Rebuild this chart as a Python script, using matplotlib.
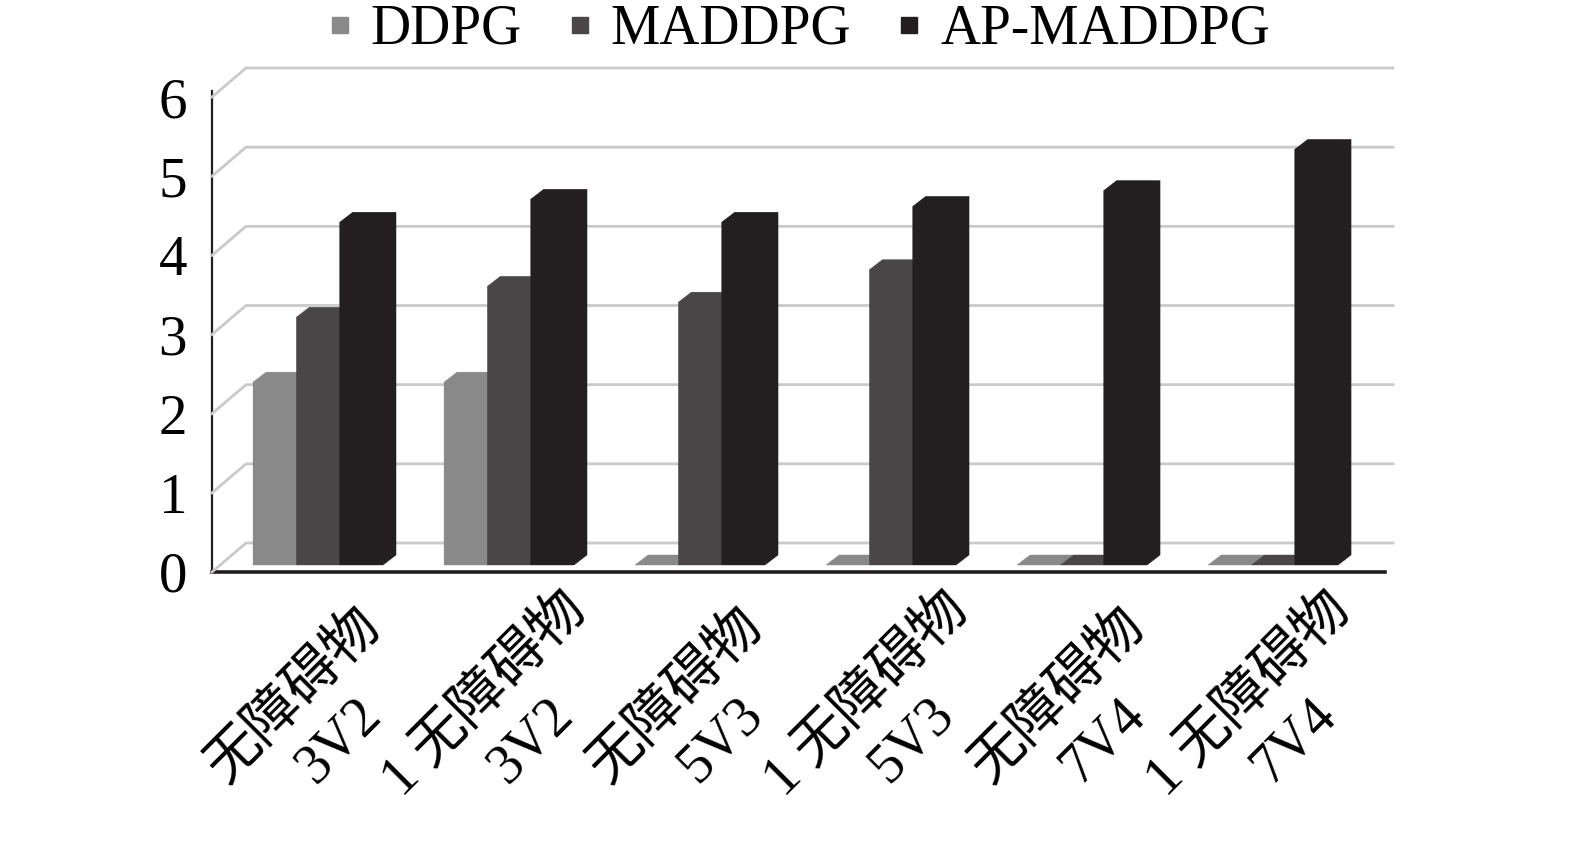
import matplotlib
matplotlib.use("Agg")
import matplotlib.pyplot as plt
from matplotlib.patches import Polygon
from matplotlib.lines import Line2D
from matplotlib.transforms import IdentityTransform
import numpy as np

# ---------------- data ----------------
categories = ["无障碍物\n3V2", "1 无障碍物\n3V2", "无障碍物\n5V3",
              "1 无障碍物\n5V3", "无障碍物\n7V4", "1 无障碍物\n7V4"]
series_names = ["DDPG", "MADDPG", "AP-MADDPG"]
ddpg = [2.31, 2.31, 0.0, 0.0, 0.0, 0.0]
maddpg = [3.13, 3.52, 3.32, 3.73, 0.0, 0.0]
ap_maddpg = [4.33, 4.62, 4.33, 4.53, 4.73, 5.25]
yticks = [0, 1, 2, 3, 4, 5, 6]

# ---------------- style ----------------
colors = ["#898989", "#4a4647", "#231f20"]
grid_color = "#cacaca"
axis_color = "#231f20"
serif = ["Liberation Serif", "Noto Sans CJK SC"]
FS = 41

FIG_W, FIG_H, DPI = 1575, 856, 100
fig = plt.figure(figsize=(FIG_W / DPI, FIG_H / DPI), dpi=DPI)
fig.patch.set_facecolor("white")

# front plane of the pseudo-3D box
ax = fig.add_axes([212 / FIG_W, (FIG_H - 572) / FIG_H, 1173 / FIG_W, 475 / FIG_H])
ax.set_xlim(-0.508, 5.633)
ax.set_ylim(0, 6)
ax.patch.set_visible(False)

# depth offsets in display pixels
FRONT = np.array([9.0, 7.0])     # bar front face vs. front plane
DEPTH = np.array([13.0, 10.0])   # bar depth
WALL = np.array([34.0, 29.0])    # back wall vs. front plane
back_wall_end = 5.497            # x (data) where back wall gridlines end


def disp(x, y, off=(0.0, 0.0)):
    return ax.transData.transform((x, y)) + np.asarray(off)


ident = IdentityTransform()
xmin = ax.get_xlim()[0]

# gridlines: back wall + left side diagonal
for v in yticks:
    p0 = disp(xmin, v)
    p1 = disp(xmin, v, WALL)
    p2 = disp(back_wall_end, v, WALL)
    ln = Line2D([p0[0], p1[0], p2[0]], [p0[1], p1[1], p2[1]], transform=ident,
                color=grid_color, lw=2.0, zorder=0.5, clip_on=False)
    fig.add_artist(ln)

# bars
series = [ddpg, maddpg, ap_maddpg]
bw = 0.2268
for i in range(len(categories)):
    for s, vals in enumerate(series):
        v = vals[i]
        x0 = i - 1.5 * bw + s * bw
        x1 = x0 + bw
        pts = [disp(x0, 0, FRONT), disp(x0, v, FRONT), disp(x0, v, FRONT + DEPTH),
               disp(x1, v, FRONT + DEPTH), disp(x1, 0, FRONT + DEPTH), disp(x1, 0, FRONT)]
        poly = Polygon(pts, closed=True, transform=ident, facecolor=colors[s],
                       edgecolor=colors[s], lw=0.3, zorder=2 + s * 0.01 + i * 0.1,
                       clip_on=False)
        fig.add_artist(poly)

# axes spines / ticks
for side in ["top", "right"]:
    ax.spines[side].set_visible(False)
ax.spines["left"].set_color(axis_color)
ax.spines["left"].set_linewidth(1.6)
ax.spines["left"].set_bounds(0, 6.08)
ax.spines["bottom"].set_color(axis_color)
ax.spines["bottom"].set_linewidth(2.6)
ax.set_xticks([])
ax.set_yticks(yticks)
ax.set_yticklabels([str(t) for t in yticks], family=serif, fontsize=FS)
ax.tick_params(axis="y", length=0, pad=18, colors="black")

# category labels
for i, lab in enumerate(categories):
    ax.text(i + 0.04, -0.307, lab, transform=ax.get_xaxis_transform(), rotation=45,
            ha="center", va="center", rotation_mode="anchor", multialignment="center",
            linespacing=1.3, fontsize=FS - 1, family=serif, color="black", clip_on=False)

# legend
handles = [Line2D([], [], marker="s", linestyle="none", color=c, markersize=12) for c in colors]
fig.legend(handles, series_names, loc="center", bbox_to_anchor=(798 / FIG_W, 1 - 30 / FIG_H),
           ncol=3, frameon=False, prop={"family": serif, "size": FS - 1},
           handlelength=0.5, handletextpad=0.3, columnspacing=0.8, borderpad=0)

fig.savefig("out.png", dpi=DPI, facecolor="white")
